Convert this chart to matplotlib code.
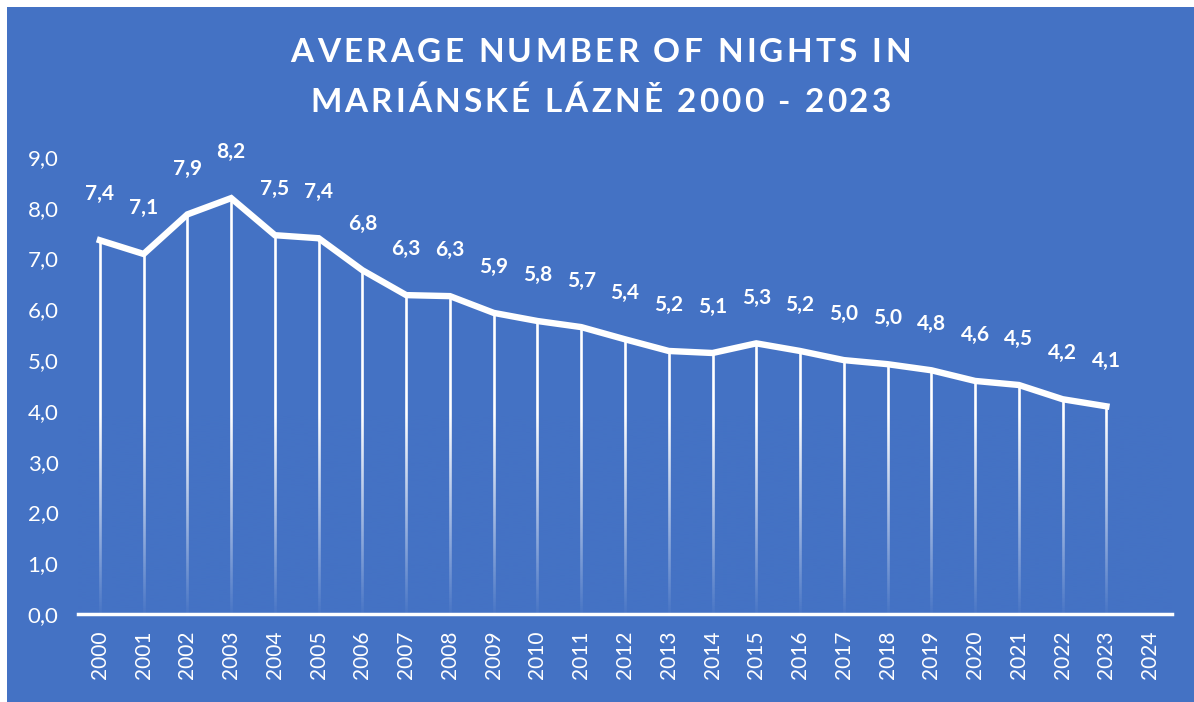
import numpy as np
import matplotlib.pyplot as plt
from matplotlib.patches import Rectangle
from matplotlib.colors import to_rgb

# data
years = [str(y) for y in range(2000, 2025)]
nights = [7.36, 7.09, 7.87, 8.19, 7.46, 7.40, 6.77, 6.28, 6.26, 5.93, 5.77, 5.65,
          5.41, 5.18, 5.14, 5.33, 5.18, 5.00, 4.92, 4.80, 4.59, 4.51, 4.23, 4.09]
labels = ['7,4', '7,1', '7,9', '8,2', '7,5', '7,4', '6,8', '6,3', '6,3', '5,9', '5,8', '5,7',
          '5,4', '5,2', '5,1', '5,3', '5,2', '5,0', '5,0', '4,8', '4,6', '4,5', '4,2', '4,1']
yticks = [0, 1, 2, 3, 4, 5, 6, 7, 8, 9]
title_lines = ['AVERAGE NUMBER OF NIGHTS IN', 'MARIÁNSKÉ LÁZNĚ 2000 - 2023']

blue = '#4472C4'
plt.rcParams['font.family'] = ['Lato', 'DejaVu Sans']

fig = plt.figure(figsize=(11.94, 7.02), dpi=100, facecolor='white')
W, H = 1194, 702
# blue chart area (thin white strip left / top like the original)
fig.patches.append(Rectangle((7 / W, 0), 1 - 7 / W, 1 - 7 / H,
                             transform=fig.transFigure, facecolor=blue,
                             edgecolor='none', zorder=-10))

ax = fig.add_axes([78 / W, 1 - 614 / H, (1172 - 78) / W, (614 - 157) / H])
ax.set_facecolor('none')

x = np.arange(len(nights))

# drop lines, then a blue gradient over their lower part so they fade out
ax.vlines(x, 0, nights, color='white', lw=1.9, zorder=2)
fade_top = 4.0
g = np.linspace(0, fade_top, 200)
alpha = 1 - np.clip(0.02 + g / fade_top, 0, 1)
grad = np.zeros((len(g), 1, 4))
grad[:, 0, :3] = to_rgb(blue)
grad[:, 0, 3] = alpha
ax.imshow(grad, extent=(-0.5, len(years) - 0.5, 0, fade_top), origin='lower',
          aspect='auto', interpolation='bilinear', zorder=2.5)

ax.plot(x, nights, color='white', lw=4.6, solid_joinstyle='miter', zorder=3)

for xi, v, lab in zip(x, nights, labels):
    ax.annotate(lab, (xi, v), xytext=(0, 33), textcoords='offset points',
                ha='center', va='center', color='white', fontsize=15, fontweight='bold')

ax.set_xlim(-0.5, len(years) - 0.5)
ax.set_ylim(0, 9)
ax.set_xticks(np.arange(len(years)))
ax.set_xticklabels(years, rotation=90, color='white', fontsize=15)
ax.set_yticks(yticks)
ax.set_yticklabels([f'{t},0' for t in yticks], color='white', fontsize=16)
ax.tick_params(length=0)
ax.tick_params(axis='y', pad=14)
ax.tick_params(axis='x', pad=12)
for s in ['left', 'right', 'top']:
    ax.spines[s].set_visible(False)
ax.spines['bottom'].set_color('white')
ax.spines['bottom'].set_linewidth(2.5)
ax.spines['bottom'].set_zorder(4)


# title with extra letter spacing (placed char by char)
def spaced_title(text, yc, width_px, size=24):
    r = fig.canvas.get_renderer()
    kw = dict(color='white', fontsize=size, fontweight='bold', va='center', ha='left')

    def tw(s):
        if not s:
            return 0.0
        t = fig.text(0, 0, s, **kw)
        w = t.get_window_extent(r).width
        t.remove()
        return w

    base = tw(text)
    gap = (width_px - base) / (len(text) - 1)
    x0 = (W + 7) / 2 - width_px / 2
    for i, ch in enumerate(text):
        xp = x0 + tw(text[:i]) + i * gap
        fig.text(xp / W, 1 - yc / H, ch, **kw)


spaced_title(title_lines[0], 52, 620)
spaced_title(title_lines[1], 102, 581)

fig.savefig('out.png', dpi=100, facecolor='white')
